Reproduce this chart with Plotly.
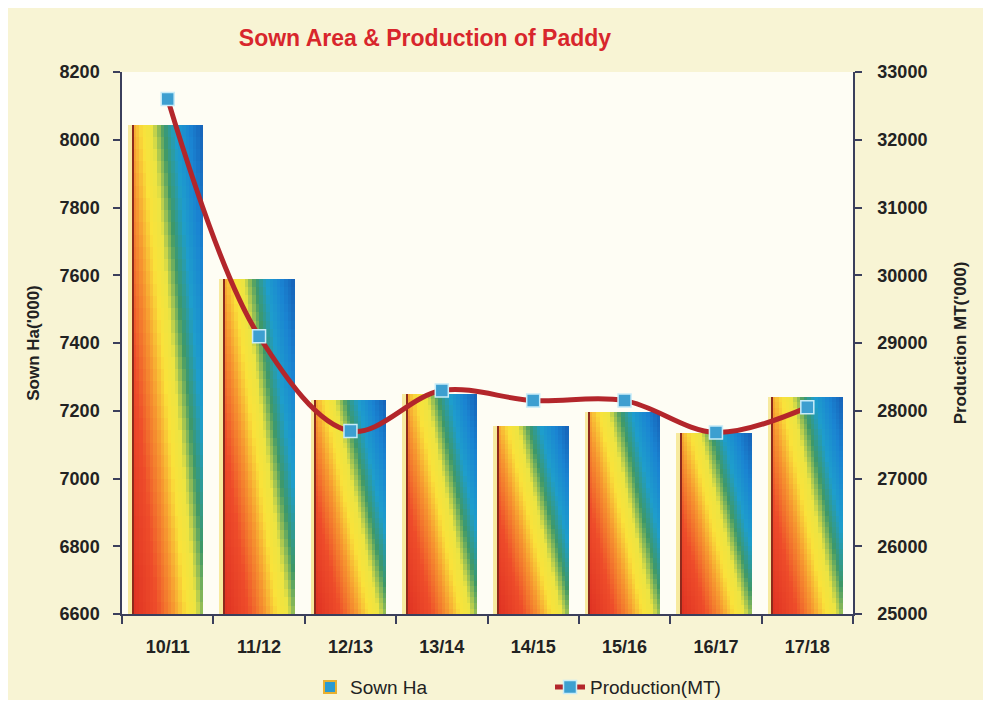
import plotly.graph_objects as go

# ---------------- data ----------------
seasons = ["10/11", "11/12", "12/13", "13/14", "14/15", "15/16", "16/17", "17/18"]
sown_ha = [8045, 7590, 7232, 7250, 7156, 7197, 7135, 7241]          # '000 Ha
production = [32600, 29100, 27700, 28300, 28150, 28150, 27680, 28050]  # '000 MT
left_ticks = [6600, 6800, 7000, 7200, 7400, 7600, 7800, 8000, 8200]
right_ticks = [25000, 26000, 27000, 28000, 29000, 30000, 31000, 32000, 33000]

# ---------------- styling ----------------
BASE = left_ticks[0]
BAR_W = 0.78
NC, NR = 20, 40
FONT = "Liberation Sans Narrow, Arial Narrow, Liberation Sans, Arial"
AXIS_COL = "#3b3f5c"

stops = [(0.00, (222, 48, 34)), (0.35, (238, 76, 42)), (0.58, (246, 150, 48)),
         (0.76, (250, 226, 58)), (0.90, (236, 228, 66)), (1.06, (62, 152, 104)),
         (1.22, (30, 158, 204)), (1.42, (26, 132, 210)), (1.62, (22, 96, 182))]


def grad(t):
    if t <= stops[0][0]:
        c = stops[0][1]
    elif t >= stops[-1][0]:
        c = stops[-1][1]
    else:
        for (a, ca), (b, cb) in zip(stops, stops[1:]):
            if a <= t <= b:
                f = (t - a) / (b - a)
                c = tuple(ca[k] + (cb[k] - ca[k]) * f for k in range(3))
                break
    return "rgb(%d,%d,%d)" % tuple(int(round(v)) for v in c)


fig = go.Figure()

# soft glow on left side of each bar
fig.add_trace(go.Bar(
    x=seasons, y=[v - BASE for v in sown_ha], base=BASE,
    width=0.05, offset=-BAR_W / 2 - 0.045,
    marker=dict(color="rgba(246,232,150,0.9)", line_width=0),
    showlegend=False, hoverinfo="skip"))

# gradient bars, painted as overlapping cells (later cells overwrite earlier)
for c in range(NC):
    for r in range(NR):
        u = (c + 0.5) / NC
        v = (r + 0.5) / NR
        t = u + 0.62 * v
        bases = [BASE + r / NR * (val - BASE) for val in sown_ha]
        heights = [val - b for val, b in zip(sown_ha, bases)]
        fig.add_trace(go.Bar(
            x=seasons, y=heights, base=bases,
            width=BAR_W - c * BAR_W / NC,
            offset=-BAR_W / 2 + c * BAR_W / NC,
            marker=dict(color=grad(t), line_width=0),
            showlegend=False, hoverinfo="skip"))

# dark left edge of each bar
fig.add_trace(go.Bar(
    x=seasons, y=[v - BASE for v in sown_ha], base=BASE,
    width=0.012, offset=-BAR_W / 2,
    marker=dict(color="#8e2a1c", line_width=0),
    showlegend=False, hoverinfo="skip"))

# legend entry for bars
fig.add_trace(go.Bar(
    x=[None], y=[None], name="Sown Ha",
    marker=dict(color="#2a9ad0", line=dict(color="#e8b030", width=2))))

# production line
fig.add_trace(go.Scatter(
    x=seasons, y=production, yaxis="y2", name="Production(MT)",
    mode="lines+markers",
    line=dict(color="#b3262b", width=5, shape="spline", smoothing=1.0),
    marker=dict(symbol="square", size=13, color="#3d9fd0",
                line=dict(color="#c8ecf8", width=1.5))))

tickfont = dict(family=FONT, size=18, color="#222222", weight="bold")
titlefont = dict(family=FONT, size=17, color="#222222", weight="bold")

fig.update_layout(
    width=975, height=692,
    margin=dict(l=114, r=130, t=64, b=86, autoexpand=False),
    paper_bgcolor="#f8f4d4",
    plot_bgcolor="#fefdf4",
    barmode="overlay",
    bargap=0,
    font=dict(family=FONT, color="#222222", size=15),
    title=dict(text="Sown Area & Production of Paddy",
               font=dict(family=FONT, size=23, color="#d8262c", weight="bold"),
               x=417 / 975, xanchor="center", y=1 - 30 / 692, yanchor="middle"),
    xaxis=dict(
        type="category", categoryorder="array", categoryarray=seasons,
        showline=True, linecolor=AXIS_COL, linewidth=1.5,
        ticks="outside", tickson="boundaries", ticklen=8, tickcolor=AXIS_COL,
        tickwidth=1.5, ticklabelstandoff=16, automargin=False,
        tickfont=tickfont, showgrid=False, range=[-0.5, 7.5]),
    yaxis=dict(
        range=[6600, 8200], tickvals=left_ticks, automargin=False,
        showline=True, linecolor=AXIS_COL, linewidth=1.5,
        ticks="outside", ticklen=7, tickcolor=AXIS_COL, tickwidth=1.5,
        ticklabelstandoff=10, tickfont=tickfont,
        showgrid=False, zeroline=False,
        title=dict(text="Sown Ha('000)", standoff=16, font=titlefont)),
    yaxis2=dict(
        range=[25000, 33000], tickvals=right_ticks, tickformat="d",
        overlaying="y", side="right", automargin=False,
        showline=True, linecolor=AXIS_COL, linewidth=1.5,
        ticks="outside", ticklen=7, tickcolor=AXIS_COL, tickwidth=1.5,
        ticklabelstandoff=12, tickfont=tickfont,
        showgrid=False, zeroline=False,
        title=dict(text="Production MT('000)", standoff=28, font=titlefont)),
    legend=dict(orientation="h", x=(310 - 122) / 731, xanchor="left",
                y=-0.135, yanchor="middle", entrywidth=195,
                bgcolor="rgba(0,0,0,0)",
                font=dict(family=FONT, size=19, color="#222222")),
)

fig.write_html("out.html")
